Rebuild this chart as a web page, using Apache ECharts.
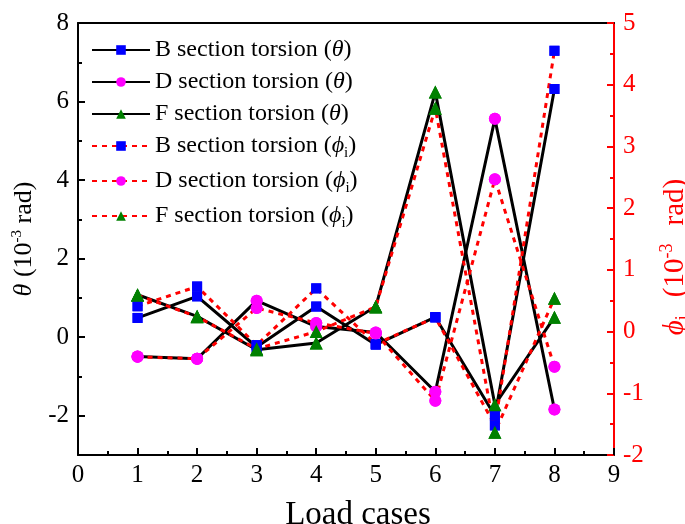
<!DOCTYPE html>
<html>
<head>
<meta charset="utf-8">
<script src="https://cdn.jsdelivr.net/npm/echarts@6/dist/echarts.min.js"></script>
<style>
  html, body { margin: 0; padding: 0; background: #fff; }
  #chart { width: 685px; height: 524px; }
</style>
</head>
<body>
<div id="chart"></div>
<script>
// Load cases along the x axis
const cases = [1, 2, 3, 4, 5, 6, 7, 8];

// Section torsion angle theta (10^-3 rad), left axis
const thetaB = [0.49, 1.04, -0.25, 0.78, -0.19, 0.51, -2.0, 6.32];
const thetaD = [-0.49, -0.55, 0.93, 0.27, 0.12, -1.39, 5.56, -1.84];
const thetaF = [1.08, 0.53, -0.32, -0.15, 0.78, 6.24, -1.72, 0.51];

// Section torsion angle phi_i (10^-3 rad), right axis
const phiB = [0.41, 0.73, -0.22, 0.70, -0.20, 0.23, -1.52, 4.55];
const phiD = [-0.41, -0.44, 0.38, 0.14, -0.03, -1.12, 2.47, -0.57];
const phiF = [0.59, 0.24, -0.28, 0.00, 0.40, 3.62, -1.63, 0.54];

// Tick values
const xTicks = [0, 1, 2, 3, 4, 5, 6, 7, 8, 9];
const leftMajorTicks = [-2, 0, 2, 4, 6, 8];
const leftMinorTicks = [-1, 1, 3, 5, 7];
const rightTicks = [-2, -1, 0, 1, 2, 3, 4, 5];

const FONT = 'Liberation Serif, "Times New Roman", serif';
const BLUE = '#0000FF', MAGENTA = '#FF00FF', GREEN = '#008000', RED = '#FF0000';

const pairs = vals => cases.map((c, i) => [c, vals[i]]);

const seriesDefs = [
  { name: 'B section torsion (θ)', data: thetaB, axis: 0, dashed: false, symbol: 'rect', size: 10, color: BLUE },
  { name: 'D section torsion (θ)', data: thetaD, axis: 0, dashed: false, symbol: 'circle', size: 12, color: MAGENTA },
  { name: 'F section torsion (θ)', data: thetaF, axis: 0, dashed: false, symbol: 'triangle', size: 13, color: GREEN },
  { name: 'B section torsion (ϕi)', data: phiB, axis: 1, dashed: true, symbol: 'rect', size: 10, color: BLUE },
  { name: 'D section torsion (ϕi)', data: phiD, axis: 1, dashed: true, symbol: 'circle', size: 12, color: MAGENTA },
  { name: 'F section torsion (ϕi)', data: phiF, axis: 1, dashed: true, symbol: 'triangle', size: 13, color: GREEN }
];

const series = [];
// lines (with markers for the legend)
seriesDefs.forEach((d, k) => {
  series.push({
    name: d.name,
    type: 'line',
    yAxisIndex: d.axis,
    data: pairs(d.data),
    symbol: d.symbol,
    symbolSize: d.size,
    itemStyle: { color: d.color },
    lineStyle: d.dashed
      ? { color: RED, width: 3, type: [5, 5] }
      : { color: '#000', width: 3, type: 'solid' },
    z: 2 + k * 0.01,
    animation: false
  });
});
// markers drawn above every line
seriesDefs.forEach((d, k) => {
  series.push({
    name: 'pts-' + k,
    type: 'line',
    yAxisIndex: d.axis,
    data: pairs(d.data),
    symbol: d.symbol,
    symbolSize: d.size,
    itemStyle: { color: d.color },
    lineStyle: { opacity: 0, width: 0 },
    z: 5,
    silent: true,
    animation: false
  });
});

const richText = {
  n: { fontFamily: FONT, fontSize: 24, color: '#000' },
  i: { fontFamily: FONT, fontSize: 24, fontStyle: 'italic', color: '#000' },
  sub: { fontFamily: FONT, fontSize: 15, color: '#000', verticalAlign: 'bottom', lineHeight: 30 }
};

const option = {
  backgroundColor: '#fff',
  animation: false,
  grid: { left: 78, right: 71, top: 23, bottom: 69, containLabel: false, outerBoundsMode: 'none' },
  legend: {
    data: seriesDefs.map(d => d.name),
    orient: 'vertical',
    left: 86,
    top: 33,
    itemWidth: 58,
    itemHeight: 12,
    itemGap: 8,
    textStyle: { fontFamily: FONT, fontSize: 24, color: '#000', rich: richText },
    formatter: name => {
      const m = name.match(/^(.*)\((θ|ϕi)\)$/);
      if (m[2] === 'θ') return '{n|' + m[1] + '(}{i|θ}{n|)}';
      return '{n|' + m[1] + '(}{i|ϕ}{sub|i}{n|)}';
    }
  },
  xAxis: [
    {
      type: 'value', min: 0, max: 9, interval: 1, position: 'bottom',
      axisLine: { show: true, onZero: false, lineStyle: { color: '#000', width: 2 } },
      axisTick: { show: true, inside: true, length: 7, lineStyle: { color: '#000', width: 2 }, customValues: xTicks },
      minorTick: { show: true, splitNumber: 2, length: 4, lineStyle: { color: '#000', width: 2 } },
      axisLabel: { customValues: xTicks, color: '#000', fontFamily: FONT, fontSize: 25, margin: 8 },
      splitLine: { show: false },
      name: 'Load cases', nameLocation: 'middle', nameGap: 44,
      nameTextStyle: { fontFamily: FONT, fontSize: 33, color: '#000', padding: [0, 0, 0, 24] }
    },
    {
      type: 'value', min: 0, max: 9, interval: 1, position: 'top',
      axisLine: { show: true, onZero: false, lineStyle: { color: '#000', width: 2 } },
      axisTick: { show: false }, axisLabel: { show: false }, splitLine: { show: false }
    }
  ],
  yAxis: [
    {
      type: 'value', min: -3, max: 8, interval: 1, position: 'left',
      axisLine: { show: true, onZero: false, lineStyle: { color: '#000', width: 2 } },
      axisTick: { show: true, inside: true, length: 7, lineStyle: { color: '#000', width: 2 }, customValues: leftMajorTicks },
      axisLabel: { customValues: leftMajorTicks, color: '#000', fontFamily: FONT, fontSize: 25, margin: 9 },
      splitLine: { show: false },
      name: '{i|θ}{n| (10}{sup|-3}{n| rad)}', nameLocation: 'middle', nameGap: 36, nameRotate: 90,
      nameTextStyle: {
        rich: {
          n: { fontFamily: FONT, fontSize: 26, color: '#000', lineHeight: 30 },
          i: { fontFamily: FONT, fontSize: 26, fontStyle: 'italic', color: '#000', lineHeight: 30 },
          sup: { fontFamily: FONT, fontSize: 15, color: '#000', verticalAlign: 'top', lineHeight: 30 }
        }
      }
    },
    {
      type: 'value', min: -2, max: 5, interval: 1, position: 'right',
      axisLine: { show: true, onZero: false, lineStyle: { color: RED, width: 2 } },
      axisTick: { show: true, inside: true, length: 7, lineStyle: { color: RED, width: 2 }, customValues: rightTicks },
      minorTick: { show: true, splitNumber: 2, length: 4, lineStyle: { color: RED, width: 2 } },
      axisLabel: { customValues: rightTicks, color: RED, fontFamily: FONT, fontSize: 25, margin: 9 },
      splitLine: { show: false },
      name: '{i|ϕ}{sub|i}{gap| }{n|(10}{sup|-3}{gap| }{n|rad)}', nameLocation: 'middle', nameGap: 44, nameRotate: 90,
      nameTextStyle: {
        padding: [0, 36, 0, 0],
        rich: {
          n: { fontFamily: FONT, fontSize: 29, color: RED, lineHeight: 34 },
          i: { fontFamily: FONT, fontSize: 29, fontStyle: 'italic', color: RED, lineHeight: 34 },
          gap: { fontFamily: FONT, fontSize: 29, color: RED, width: 18, lineHeight: 34 },
          sup: { fontFamily: FONT, fontSize: 18, color: RED, verticalAlign: 'top', lineHeight: 34 },
          sub: { fontFamily: FONT, fontSize: 18, color: RED, verticalAlign: 'bottom', lineHeight: 34 }
        }
      }
    },
    {
      // odd-valued short ticks on the left axis
      type: 'value', min: -3, max: 8, interval: 1, position: 'left',
      axisLine: { show: false },
      axisTick: { show: true, inside: true, length: 4, lineStyle: { color: '#000', width: 2 }, customValues: leftMinorTicks },
      axisLabel: { show: false },
      splitLine: { show: false }
    }
  ],
  series: series
};

const chart = echarts.init(document.getElementById('chart'), null, { renderer: 'canvas' });
chart.setOption(option);
</script>
</body>
</html>
